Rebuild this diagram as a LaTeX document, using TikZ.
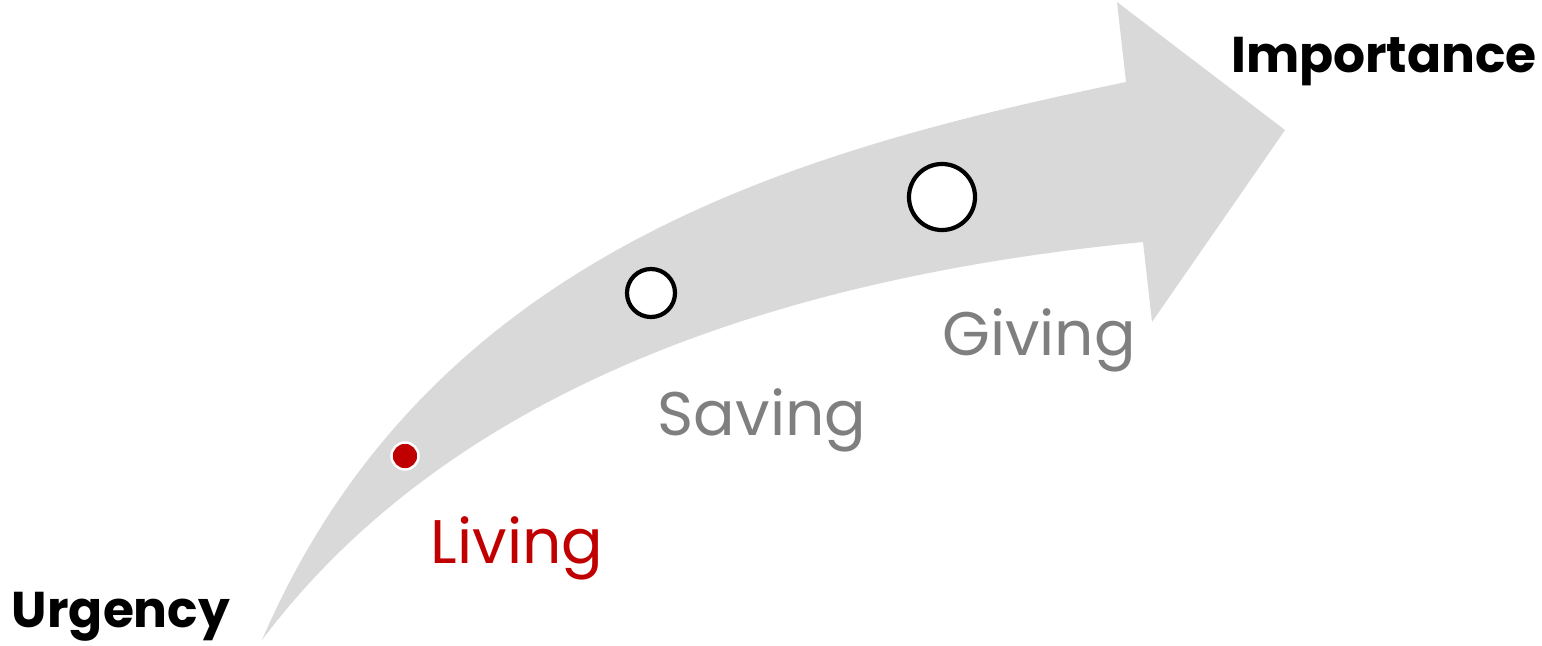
\documentclass[tikz,border=0pt]{standalone}
\usepackage{fontspec}
\setmainfont{Poppins}
\usepackage{xcolor}
\usetikzlibrary{positioning, calc}
\definecolor{bandgray}{HTML}{D9D9D9}
\definecolor{textgray}{HTML}{7F7F7F}
\definecolor{livered}{HTML}{C00000}
\tikzset{
  axislabel/.style={
    anchor=base,
    inner sep=0pt,
    font=\fontsize{14.3}{17}\selectfont\bfseries,
    text=black
  },
  stage/.style={
    anchor=base,
    inner sep=0pt,
    font=\fontsize{17.5}{21}\selectfont,
    text=textgray
  },
  dot/.style={
    circle,
    draw=black,
    line width=1.2pt,
    fill=white,
    inner sep=0pt
  }
}
\begin{document}
\begin{tikzpicture}[x=0.01cm, y=-0.01cm]
\useasboundingbox (0,0) rectangle (1542,645);

% Band
\fill [bandgray] (262,640) .. controls (430,250) and (800,150) .. (1126,82)
  -- (1117,2) -- (1285,130) -- (1152,322) -- (1143,242)
  .. controls (700,285) and (420,430) .. (262,640) -- cycle;

% Markers
\node (livedot) [dot, draw=white, line width=0.7pt, fill=livered, minimum size=27*0.2845pt] at (405,456) {};
\node (savedot) [dot, minimum size=48*0.2845pt] at (651,293) {};
\node (givedot) [dot, minimum size=66*0.2845pt] at (942,197) {};

% Labels
\node (living) [stage, text=livered] at (517,563) {Living};
\node (saving) [stage] at (762,435) {Saving};
\node (giving) [stage] at (1039,355) {Giving};
\node (urgency) [axislabel] at (121,627) {Urgency};
\node (importance) [axislabel] at (1384,72) {Importance};
\end{tikzpicture}
\end{document}
